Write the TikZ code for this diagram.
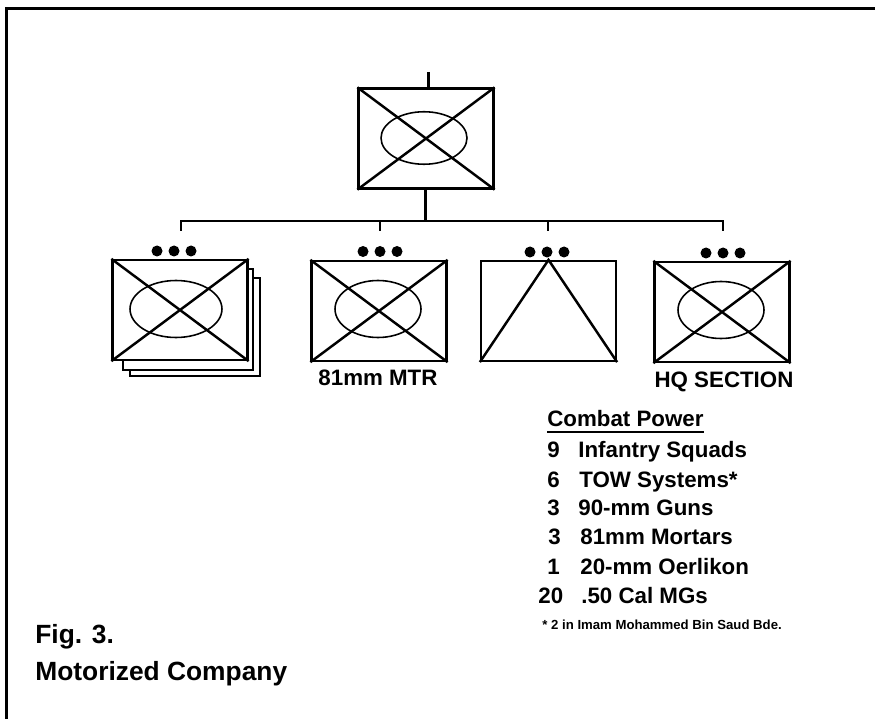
\documentclass[tikz,border=0pt]{standalone}
\usepackage{xcolor}
\usepackage{fontspec}
\setmainfont{Liberation Sans}
\usetikzlibrary{positioning,shapes.geometric}
\tikzset{
  unitbox/.style={draw, line width=1.3pt, fill=white, minimum width=2.7cm, minimum height=2cm, inner sep=0pt},
  crossline/.style={line width=1.4pt},
  ringnode/.style={draw, line width=0.9pt, ellipse, minimum width=1.72cm, minimum height=1.14cm, inner sep=0pt},
  dotnode/.style={circle, fill=black, minimum size=0.22cm, inner sep=0pt},
  busline/.style={line width=0.9pt},
  stemline/.style={line width=1.7pt},
  lbl/.style={font=\bfseries\fontsize{12.7}{13}\selectfont, inner sep=0pt, anchor=base west},
}
\begin{document}
\begin{tikzpicture}[x=0.02cm,y=-0.02cm]
      \useasboundingbox (0,0) rectangle (875,719);
      % Marco
      \coordinate (framebl) at (6.5,719);
      \coordinate (frametl) at (6.5,8.5);
      \coordinate (frametr) at (875,8.5);
      \draw[line width=1.9pt] (framebl) -- (frametl) -- (frametr);
      % Nodos
      \node[unitbox] (hq) at (426,138.5) {};
      \node[unitbox, minimum width=2.6cm, minimum height=1.96cm] (plb) at (195,327) {};
      \node[unitbox, minimum width=2.6cm, minimum height=2.02cm] (pla) at (188,319.5) {};
      \node[unitbox] (pl) at (180,310) {};
      \node[unitbox] (mtr) at (379,311) {};
      \node[unitbox] (tow) at (548.5,311) {};
      \node[unitbox] (sec) at (722,312) {};
      \coordinate (top) at (428,72);
      \coordinate (bus) at (425.5,221);
      \coordinate (busl) at (181,221);
      \coordinate (busr) at (723,221);
      \coordinate (dropb) at (380,231);
      \coordinate (dropc) at (548,231);
      \coordinate (dropa) at (181,231);
      \coordinate (dropd) at (723,231);
      % Simbolos
      \foreach \n/\rx/\ry/\ex/\ey in {hq/1.72/1.05/424/138, pl/1.84/1.14/176/309, mtr/1.72/1.14/378/309, sec/1.72/1.14/721/310} {
        \draw[crossline] (\n.north west) -- (\n.south east) (\n.north east) -- (\n.south west);
        \node[ringnode, minimum width=\rx cm, minimum height=\ry cm] (ring\n) at (\ex,\ey) {};
      }
      \draw[crossline] (tow.south west) -- (tow.north) -- (tow.south east);
      % Puntos
      \foreach \n/\x/\y in {a/174/251, b/380/251.5, c/547/252, d/723/253} {
        \node[dotnode] (dot\n) at (\x,\y) {};
        \node[dotnode, left=0.106cm of dot\n] (dot\n l) {};
        \node[dotnode, right=0.106cm of dot\n] (dot\n r) {};
      }
      % Lineas
      \draw[stemline] (top) -- (top |- hq.north);
      \draw[stemline] (bus |- hq.south) -- (bus);
      \draw[busline] (dropa) -- (busl) -- (busr) -- (dropd);
      \draw[busline] (dropb |- bus) -- (dropb);
      \draw[busline] (dropc |- bus) -- (dropc);
      % Etiquetas
      \node[lbl, anchor=base] (lmtr) at (378,385) {81mm MTR};
      \node[lbl, anchor=base] (lsec) at (724,387) {HQ SECTION};
      \node[lbl] (title) at (547,426) {Combat Power};
      \draw[line width=1.1pt] (title.south west |- 0,432) -- (title.south east |- 0,432);
      \foreach \n/\tx/\ty/\txt in {i/547/457/9, j/547/487/6, a/547/515/3, b/548/544/3, c/547/574/1, d/538/603/20} {
        \node[lbl, anchor=base west] (num\n) at (\tx,\ty) {\txt};
      }
      \node[lbl] (inf) at (578,457) {Infantry Squads};
      \node[lbl] (tows) at (579,487) {TOW Systems*};
      \node[lbl] (guns) at (578,515) {90-mm Guns};
      \node[lbl] (mort) at (580,544) {81mm Mortars};
      \node[lbl] (oer) at (580,574) {20-mm Oerlikon};
      \node[lbl] (cal) at (581,603) {.50 Cal MGs};
      \node[lbl, font=\bfseries\fontsize{7.5}{8}\selectfont] (note) at (542,629) {* 2 in Imam Mohammed Bin Saud Bde.};
      \node[lbl, font=\bfseries\fontsize{15}{16}\selectfont] (fig) at (35,643) {Fig. 3.};
      \node[lbl, font=\bfseries\fontsize{15}{16}\selectfont] (name) at (35,680) {Motorized Company};
    \end{tikzpicture}
\end{document}
